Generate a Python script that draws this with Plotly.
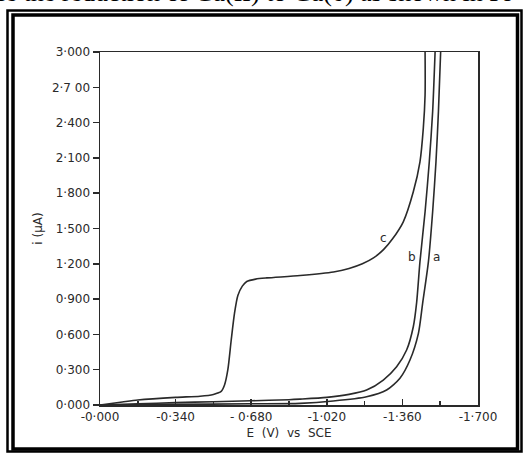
import plotly.graph_objects as go

# ---- data (E in V vs SCE, i in microamp) ----
E_a = [0, -0.34, -0.68, -0.90, -1.049, -1.199, -1.289, -1.349, -1.394, -1.432, -1.451, -1.477, -1.496, -1.511, -1.522, -1.532]
I_a = [0, 0.005, 0.010, 0.014, 0.034, 0.070, 0.127, 0.227, 0.382, 0.609, 0.864, 1.218, 1.642, 2.067, 2.492, 3.0]

E_b = [0, -0.17, -0.34, -0.51, -0.68, -0.85, -0.90, -1.02, -1.12, -1.199, -1.274, -1.334, -1.379, -1.409, -1.424, -1.439, -1.462, -1.481, -1.496, -1.507]
I_b = [0, 0.010, 0.020, 0.028, 0.036, 0.045, 0.050, 0.065, 0.090, 0.127, 0.212, 0.325, 0.467, 0.665, 0.870, 1.218, 1.642, 2.067, 2.492, 3.0]

E_c = [0, -0.10, -0.17, -0.34, -0.45, -0.51, -0.545, -0.56, -0.575, -0.59, -0.605, -0.62, -0.64, -0.66, -0.70, -0.75, -0.90, -1.05, -1.12, -1.18, -1.23, -1.275, -1.315, -1.364, -1.409, -1.439, -1.454, -1.462, -1.462]
I_c = [0, 0.025, 0.042, 0.065, 0.075, 0.090, 0.115, 0.17, 0.30, 0.55, 0.78, 0.93, 1.01, 1.05, 1.07, 1.08, 1.10, 1.13, 1.16, 1.20, 1.25, 1.32, 1.41, 1.557, 1.812, 2.067, 2.351, 2.634, 3.0]

x_tickvals = [0, -0.34, -0.68, -1.02, -1.36, -1.70]
x_ticktext = ["-0·000", "-0·340", "- 0·680", "-1·020", "-1·360", "-1·700"]
x_minorvals = [-0.17, -0.51, -0.85, -1.19, -1.53]
y_tickvals = [0, 0.3, 0.6, 0.9, 1.2, 1.5, 1.8, 2.1, 2.4, 2.7, 3.0]
y_ticktext = ["0·000", "0·300", "0·600", "0·900", "1·200", "1·500", "1·800", "2·100", "2·400", "2·7 00", "3·000"]

curve_labels = ["a", "b", "c"]
label_E = [-1.514, -1.402, -1.273]
label_I = [1.26, 1.26, 1.419]

W, H = 523, 453
L, R, T, B = 100, 45, 52, 48
PW, PH = W - L - R, H - T - B

def px(x):
    return (x - L) / PW

def py(y):
    return (H - B - y) / PH

LINE = "#2a2a2a"
TXT = "#2a2a2a"
FONT = "DejaVu Sans"

fig = go.Figure()
for E, I in [(E_a, I_a), (E_b, I_b), (E_c, I_c)]:
    fig.add_trace(go.Scatter(x=E, y=I, mode="lines",
                             line=dict(color=LINE, width=1.6, shape="spline", smoothing=0.7),
                             hoverinfo="skip", showlegend=False))

annotations = []
for t, xe, yi in zip(curve_labels, label_E, label_I):
    annotations.append(dict(x=xe, y=yi, xref="x", yref="y", text=t, showarrow=False,
                            font=dict(family=FONT, size=12, color=TXT)))

# cut-off caption text at top of scan
annotations.append(dict(x=px(-8), y=py(9), xref="paper", yref="paper", xanchor="left", yanchor="bottom",
                        text="ce the reduction of Cu(II) to Cu(0) as shown in Fi", showarrow=False,
                        font=dict(family="Liberation Serif", size=26, color="black")))

shapes = [
    dict(type="rect", xref="paper", yref="paper", x0=px(7.5), x1=px(521.5), y0=py(451.5), y1=py(10.5),
         line=dict(color="black", width=2.5)),
    dict(type="rect", xref="paper", yref="paper", x0=px(13), x1=px(517.5), y0=py(449), y1=py(15),
         line=dict(color="black", width=3.5)),
]

fig.update_layout(
    width=W, height=H,
    margin=dict(l=L, r=R, t=T, b=B, pad=0),
    paper_bgcolor="white", plot_bgcolor="white",
    showlegend=False,
    annotations=annotations,
    shapes=shapes,
    xaxis=dict(range=[0, -1.7], tickmode="array", tickvals=x_tickvals, ticktext=x_ticktext,
               ticks="inside", ticklen=6, tickwidth=1.5, tickcolor=LINE, ticklabelstandoff=0,
               minor=dict(tickmode="array", tickvals=x_minorvals, ticks="inside", ticklen=4, tickwidth=1.5, tickcolor=LINE),
               showgrid=False, zeroline=False, showline=True, linecolor=LINE, linewidth=1.5, mirror=True,
               tickfont=dict(family=FONT, size=12, color=TXT),
               title=dict(text="E  (V)  vs  SCE", font=dict(family=FONT, size=12, color=TXT), standoff=5)),
    yaxis=dict(range=[0, 3.0], tickmode="array", tickvals=y_tickvals, ticktext=y_ticktext,
               ticks="outside", ticklen=6, tickwidth=1.5, tickcolor=LINE,
               showgrid=False, zeroline=False, showline=True, linecolor=LINE, linewidth=1.5, mirror=True,
               tickfont=dict(family=FONT, size=12, color=TXT),
               title=dict(text="i (µA)", font=dict(family=FONT, size=12, color=TXT), standoff=6)),
)

fig.write_html("out.html", config={"displayModeBar": False, "staticPlot": True},
               post_script="document.body.style.margin='0';document.body.style.overflow='hidden';")
